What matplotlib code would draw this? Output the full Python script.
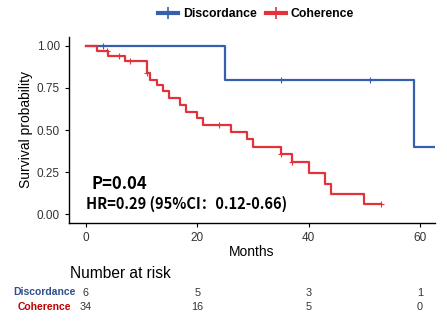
import numpy as np
import matplotlib
matplotlib.use('Agg')
import matplotlib.pyplot as plt
from matplotlib.lines import Line2D
from matplotlib.transforms import blended_transform_factory

plt.rcParams['font.family'] = ['Liberation Sans', 'DejaVu Sans']

# Kaplan-Meier step data
disc_times = [0, 25, 59]
disc_surv = [1.0, 0.80, 0.40]
disc_end = 64
disc_censor = [3, 35, 51]

coh_times = [0, 2, 4, 7, 11, 11.5, 12.7, 13.8, 15, 17, 18, 20, 21, 26, 29, 30,
             35, 37, 40, 43, 44, 50]
coh_surv = [1.0, 0.97, 0.94, 0.91, 0.84, 0.80, 0.77, 0.73, 0.69, 0.65, 0.61,
            0.57, 0.53, 0.49, 0.45, 0.40, 0.36, 0.31, 0.245, 0.18, 0.12, 0.06]
coh_end = 53
coh_censor = [3.8, 6, 8, 11, 24, 35, 37, 53]

risk_times = [0, 20, 40, 60]
risk_disc = [6, 5, 3, 1]
risk_coh = [34, 16, 5, 0]

blue = '#3760AC'
red = '#E3323C'


def surv_at(times, surv, t):
    idx = np.searchsorted(times, t, side='right') - 1
    return np.array(surv)[idx]


fig = plt.figure(figsize=(4.47, 3.21), dpi=100)
ax = fig.add_axes([0.154, 0.306, 0.819, 0.579])

for times, surv, end, cens, col in [
        (disc_times, disc_surv, disc_end, disc_censor, blue),
        (coh_times, coh_surv, coh_end, coh_censor, red)]:
    ax.step(times + [end], surv + [surv[-1]], where='post', color=col, lw=1.6)
    ax.plot(cens, surv_at(times, surv, cens), '+', color=col, ms=5, mew=0.8)

ax.set_xlim(-3.05, 62.7)
ax.set_ylim(-0.05, 1.053)
ax.set_xticks(risk_times)
ax.set_yticks([0, 0.25, 0.5, 0.75, 1.0])
ax.set_yticklabels(['0.00', '0.25', '0.50', '0.75', '1.00'])
ax.tick_params(labelsize=8.5, labelcolor='#333333', length=3, width=0.8)
for s in ['top', 'right']:
    ax.spines[s].set_visible(False)
for s in ['left', 'bottom']:
    ax.spines[s].set_linewidth(1.0)
ax.set_ylabel('Survival probability', fontsize=10, labelpad=3)
ax.set_xlabel('Months', fontsize=10, labelpad=1)

ax.text(1.0, 0.15, 'P=0.04', fontsize=12, fontweight='bold',
        family=['Noto Sans CJK SC', 'DejaVu Sans'])
ax.text(0.0, 0.03, 'HR=0.29 (95%CI：0.12-0.66)', fontsize=10.5, fontweight='bold',
        family=['Noto Sans CJK SC', 'DejaVu Sans'])

handles = [Line2D([], [], color=blue, lw=3, marker='|', ms=8, mew=1.2),
           Line2D([], [], color=red, lw=3, marker='|', ms=8, mew=1.2)]
fig.legend(handles, ['Discordance', 'Coherence'], loc='center',
           bbox_to_anchor=(0.573, 0.957), ncol=2, frameon=False,
           prop={'weight': 'bold', 'size': 8.8}, handlelength=1.6,
           handletextpad=0.4, columnspacing=0.8)

tr = blended_transform_factory(ax.transData, fig.transFigure)
fig.text(0.157, 0.148, 'Number at risk', fontsize=11.2, va='center')
fig.text(0.17, 0.090, 'Discordance', fontsize=7.5, fontweight='bold',
         color='#2F4E8C', ha='right', va='center')
fig.text(0.158, 0.045, 'Coherence', fontsize=7.5, fontweight='bold',
         color='#C00000', ha='right', va='center')
for t, d, c in zip(risk_times, risk_disc, risk_coh):
    fig.text(t, 0.087, str(d), transform=tr, fontsize=7.8, color='#333333',
             ha='center', va='center')
    fig.text(t, 0.045, str(c), transform=tr, fontsize=7.8, color='#333333',
             ha='center', va='center')

fig.savefig('out.png', dpi=100)
